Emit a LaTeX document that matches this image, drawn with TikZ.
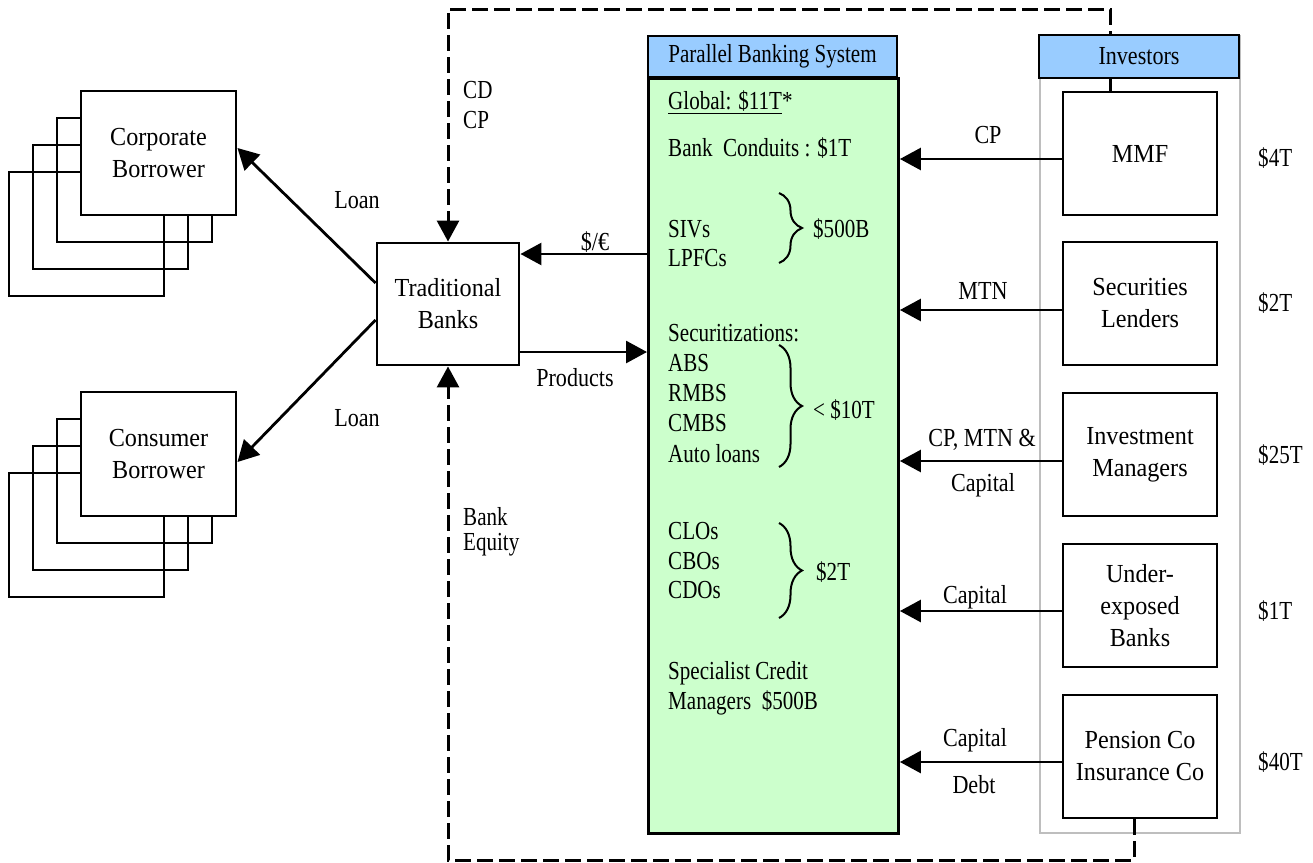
\documentclass[tikz,border=0pt]{standalone}
\usepackage{fontspec}
\setmainfont{Liberation Serif}[FakeStretch=0.81]
\newfontfamily\boxfont{Liberation Serif}[FakeStretch=0.93]
\newfontfamily\lblfont{Liberation Serif}[FakeStretch=0.85]
\usetikzlibrary{arrows.meta,decorations.pathreplacing}
\definecolor{hdrblue}{HTML}{99CCFF}
\definecolor{pbsgreen}{HTML}{CCFFCC}
\definecolor{colgray}{HTML}{BEBEBE}
\begin{document}
\begin{tikzpicture}[x=1pt,y=-1pt,
  font=\fontsize{26}{32}\selectfont,
  bx/.style={draw, line width=2.9pt, fill=white, minimum width=155pt, minimum height=124pt, align=center, inner sep=0pt, font=\fontsize{26}{32}\boxfont},
  backbox/.style={draw, line width=2.9pt, minimum width=155pt, minimum height=124pt, inner sep=0pt},
  invbox/.style={draw, line width=2.9pt, fill=white, minimum width=154pt, minimum height=123pt, align=center, inner sep=0pt, font=\fontsize{26}{32}\boxfont},
  hdr/.style={draw, line width=2.6pt, fill=hdrblue, inner sep=0pt},
  arr/.style={line width=2.8pt, -{Triangle[length=21pt,width=22pt]}},
  dline/.style={line width=3pt, dash pattern=on 16pt off 6pt},
  lbl/.style={inner sep=0pt, font=\fontsize{26}{32}\lblfont},
  txt/.style={anchor=west, inner sep=0pt},
  br/.style={decorate, decoration={brace, amplitude=23pt}, line width=2pt}
]
\useasboundingbox (0,0) rectangle (1313,862);

% Investors column
\node[draw=colgray, line width=2pt, minimum width=200pt, minimum height=797pt, anchor=north west, inner sep=0pt] (invcol) at (1039,35) {};

% Investor boxes
\node[invbox] (mmf) at (1140,153.5) {MMF};
\node[invbox] (sec) at (1140,303.5) {Securities\\Lenders};
\node[invbox] (inv) at (1140,454.5) {Investment\\Managers};
\node[invbox] (und) at (1140,605.5) {Under-\\exposed\\Banks};
\node[invbox] (pen) at (1140,756.5) {Pension Co\\Insurance Co};

% Traditional Banks
\node[bx, minimum width=142pt, minimum height=122pt] (tb) at (448,304) {Traditional\\Banks};

% Dashed loops
\draw[dline, -{Triangle[length=21pt,width=22pt]}] ([xshift=-30pt]mmf.north) |- (tb.north |- 0,9) -- (tb.north);
\draw[dline, -{Triangle[length=21pt,width=22pt]}] ([xshift=-6pt]pen.south) |- (tb.south |- 0,860) -- (tb.south);

% Headers
\node[hdr, minimum width=200pt, minimum height=43pt, font=\fontsize{26}{32}\lblfont] (invh) at (1139,56.5) {Investors};

% Parallel Banking System
\node[draw, line width=2.9pt, fill=pbsgreen, minimum width=250pt, minimum height=755pt, anchor=north west, inner sep=0pt] (pbs) at (647,77) {};
\node[hdr, minimum width=249pt, minimum height=41pt] (pbsh) at (772.5,56.5) {Parallel Banking System};

% Corporate borrower stack
\node[backbox] (cb3) at (86.5,234) {};
\node[backbox] (cb2) at (110.5,207) {};
\node[backbox] (cb1) at (134.5,180) {};
\node[bx] (corp) at (158.5,153) {Corporate\\Borrower};

% Consumer borrower stack
\node[backbox] (kb3) at (86.5,535) {};
\node[backbox] (kb2) at (110.5,508) {};
\node[backbox] (kb1) at (134.5,481) {};
\node[bx] (cons) at (158.5,454) {Consumer\\Borrower};

% PBS contents
\node[txt] (t1) at (668,102) {\underline{Global: \$11T}*};
\node[txt] (t2) at (668,148) {Bank\ \ Conduits : \$1T};
\node[txt] (t3) at (668,229) {SIVs};
\node[txt] (t4) at (668,258) {LPFCs};
\node[txt] (t5) at (668,333) {Securitizations:};
\node[txt] (t6) at (668,363) {ABS};
\node[txt] (t7) at (668,393) {RMBS};
\node[txt] (t8) at (668,423) {CMBS};
\node[txt] (t9) at (668,454) {Auto loans};
\node[txt] (t10) at (668,531) {CLOs};
\node[txt] (t11) at (668,561) {CBOs};
\node[txt] (t12) at (668,590) {CDOs};
\node[txt] (t13) at (668,673) {Specialist Credit};
\node[txt] (t14) at (668,703) {Managers\ \ \$500B};
\draw[br] (779,193) -- (779,263);
\draw[br] (779,345) -- (779,467);
\draw[br] (779,523) -- (779,618);
\node[txt] (s1) at (813,229) {\$500B};
\node[txt] (s2) at (813,410) {< \$10T};
\node[txt] (s3) at (816,572) {\$2T};

% Connectors
\draw[arr] ([yshift=21pt]tb.west) -- ([yshift=5pt]corp.east);
\draw[arr] ([yshift=-16pt]tb.west) -- ([yshift=-8pt]cons.east);
\draw[arr] (pbs.west |- 0,254) -- (tb.east |- 0,254);
\draw[arr] (tb.east |- 0,352) -- (pbs.west |- 0,352);
\draw[arr] (mmf.west |- 0,159) -- (pbs.east |- 0,159);
\draw[arr] (sec.west |- 0,310) -- (pbs.east |- 0,310);
\draw[arr] (inv.west |- 0,461) -- (pbs.east |- 0,461);
\draw[arr] (und.west |- 0,611) -- (pbs.east |- 0,611);
\draw[arr] (pen.west |- 0,762) -- (pbs.east |- 0,762);

% Labels
\node[lbl] (lloan1) at (357,200) {Loan};
\node[lbl] (lloan2) at (357,418) {Loan};
\node[lbl] (ldollar) at (595,242) {\$/€};
\node[lbl] (lprod) at (575,378) {Products};
\node[txt] (lcd) at (463,90) {CD};
\node[txt] (lcp) at (463,120) {CP};
\node[txt] (lbank) at (463,517) {Bank};
\node[txt] (lequity) at (463,545) {Equity};
\node[lbl] (a1) at (988,135) {CP};
\node[lbl] (a2) at (983,291) {MTN};
\node[lbl] (a3) at (982,440) {CP, MTN \&};
\node[lbl] (a4) at (983,485) {Capital};
\node[lbl] (a5) at (975,597) {Capital};
\node[lbl] (a6) at (975,740) {Capital};
\node[lbl] (a7) at (974,785) {Debt};
\node[txt] (r1) at (1258,158) {\$4T};
\node[txt] (r2) at (1258,303) {\$2T};
\node[txt] (r3) at (1258,455) {\$25T};
\node[txt] (r4) at (1258,611) {\$1T};
\node[txt] (r5) at (1258,762) {\$40T};
\end{tikzpicture}
\end{document}
